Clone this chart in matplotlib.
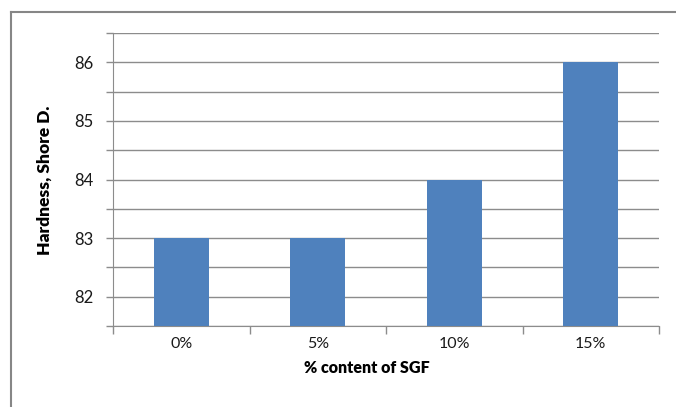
import matplotlib
matplotlib.use("Agg")
import matplotlib.pyplot as plt
from matplotlib.lines import Line2D

categories = ["0%", "5%", "10%", "15%"]
hardness = [83, 83, 84, 86]
ytick_labels = [82, 83, 84, 85, 86]

W, H = 676, 407
fig = plt.figure(figsize=(W / 100, H / 100), dpi=100)
plt.rcParams['font.family'] = ['Lato', 'DejaVu Sans']

# plot area in pixels
left, right, top, bottom = 113, 659, 33, 326
ax = fig.add_axes([left / W, 1 - bottom / H, (right - left) / W, (bottom - top) / H])

x = list(range(len(categories)))
ax.bar(x, hardness, width=0.4, color="#4F81BD", zorder=3)
ax.set_xlim(-0.5, len(categories) - 0.5)
ax.set_ylim(81.5, 86.5)

grid_c = "#8C8C8C"
yt = [81.5 + 0.5 * i for i in range(11)]
ax.set_yticks(yt)
ax.set_yticklabels([str(int(v)) if float(v).is_integer() and int(v) in ytick_labels else "" for v in yt])
ax.grid(axis="y", color=grid_c, linewidth=1.0, zorder=0)
ax.set_axisbelow(True)

ax.set_xticks(x)
ax.set_xticklabels(categories)
ax.set_xticks([-0.5, 0.5, 1.5, 2.5, 3.5], minor=True)
ax.tick_params(axis="x", which="major", length=0, pad=8, labelsize=11.5, labelcolor="#1a1a1a")
ax.tick_params(axis="x", which="minor", length=6, color=grid_c, width=1)
ax.tick_params(axis="y", length=5, color=grid_c, width=1, pad=9, labelsize=12, labelcolor="#1a1a1a")

for s in ["top", "right"]:
    ax.spines[s].set_visible(False)
ax.spines["left"].set_color(grid_c)
ax.spines["bottom"].set_color(grid_c)

fig.text(45 / W, 1 - 180 / H, "Hardness, Shore D.", rotation=90, ha="center", va="center",
         fontsize=12.5, fontweight="heavy", color="#000000")
fig.text(367 / W, 1 - 368 / H, "% content of SGF", ha="center", va="center",
         fontsize=11.5, fontweight="heavy", color="#000000")

# outer chart frame (left and top edges visible)
frame_c = "#868686"
fig.add_artist(Line2D([11 / W, 11 / W], [0, 1 - 12 / H], transform=fig.transFigure, color=frame_c, linewidth=1.5))
fig.add_artist(Line2D([11 / W, 1], [1 - 12 / H, 1 - 12 / H], transform=fig.transFigure, color=frame_c, linewidth=1.5))

fig.savefig("out.png", dpi=100)
